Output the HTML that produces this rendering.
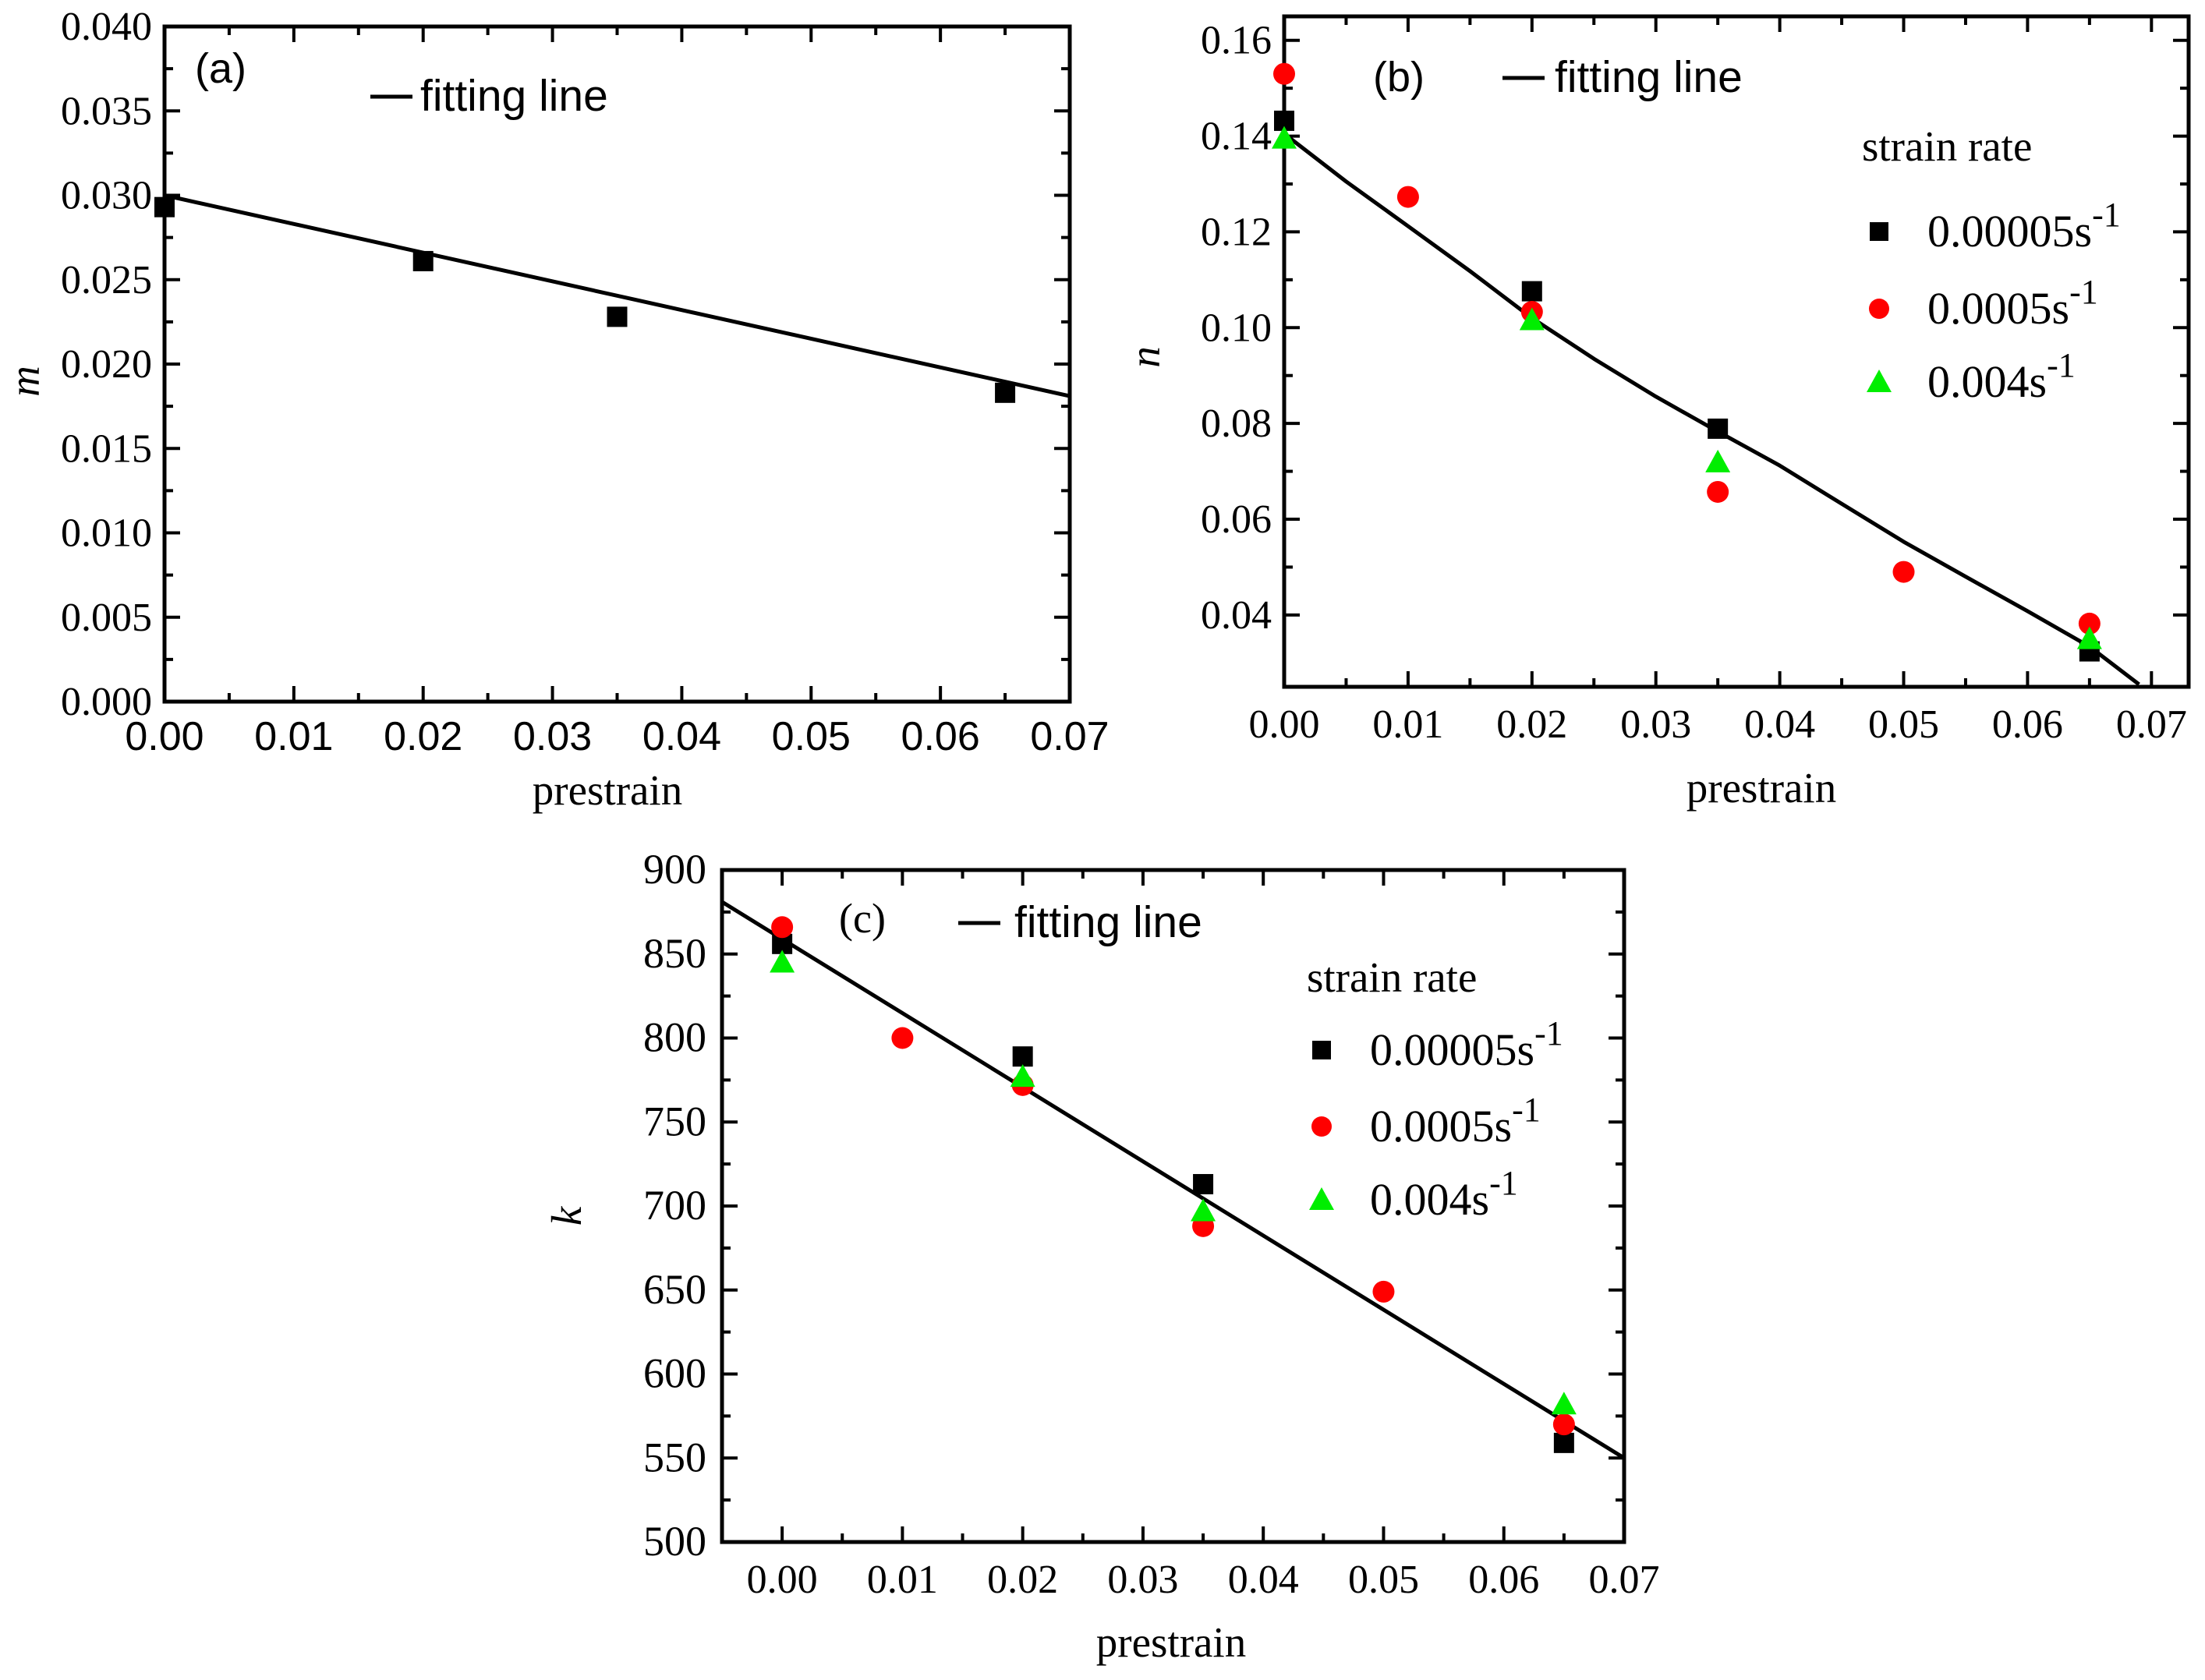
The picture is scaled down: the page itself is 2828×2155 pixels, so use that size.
<!DOCTYPE html>
<html><head><meta charset="utf-8"><style>
html,body{margin:0;padding:0;background:#fff}
svg{display:block}
.serif{font-family:"Liberation Serif",serif}
.sans{font-family:"Liberation Sans",sans-serif}
</style></head><body>
<svg id="fig" width="2828" height="2155" viewBox="0 0 2828 2155" xmlns="http://www.w3.org/2000/svg"></svg>
<script>
// ---- Panel (a) data ----
const aX = [0, 0.02, 0.035, 0.065];
const aM = [0.0293, 0.0261, 0.0228, 0.0183];
const aFitX = [0, 0.07];
const aFitY = [0.0300, 0.0181];
const aYTicks = ["0.000","0.005","0.010","0.015","0.020","0.025","0.030","0.035","0.040"];
const xTicks = ["0.00","0.01","0.02","0.03","0.04","0.05","0.06","0.07"];
// ---- Panel (b) data ----
const bXBlack = [0, 0.02, 0.035, 0.065];
const bBlack = [0.1432, 0.1076, 0.0789, 0.0324];
const bXRed = [0, 0.01, 0.02, 0.035, 0.05, 0.065];
const bRed = [0.153, 0.1273, 0.1033, 0.0657, 0.049, 0.0382];
const bXGreen = [0, 0.02, 0.035, 0.065];
const bGreen = [0.1395, 0.1016, 0.0719, 0.035];
const bFitX = [0, 0.005, 0.01, 0.015, 0.02, 0.025, 0.03, 0.035, 0.04, 0.045, 0.05, 0.055, 0.06, 0.065, 0.069];
const bFitY = [0.1405, 0.1305, 0.1212, 0.1118, 0.1020, 0.0935, 0.0856, 0.0783, 0.0712, 0.0632, 0.0553, 0.0480, 0.0408, 0.0334, 0.0255];
const bYTicks = ["0.04","0.06","0.08","0.10","0.12","0.14","0.16"];
// ---- Panel (c) data ----
const cXBlack = [0, 0.02, 0.035, 0.065];
const cBlack = [856, 789, 713, 559];
const cXRed = [0, 0.01, 0.02, 0.035, 0.05, 0.065];
const cRed = [866, 800, 772, 688, 649, 570];
const cXGreen = [0, 0.02, 0.035, 0.065];
const cGreen = [845, 777, 697, 582];
const cFitX = [-0.005, 0.07];
const cFitY = [881, 550];
const cYTicks = ["500","550","600","650","700","750","800","850","900"];

const NS = "http://www.w3.org/2000/svg";
const svg = document.getElementById("fig");
function mk(tag, attrs, parent){
  const e = document.createElementNS(NS, tag);
  for (const k in attrs) e.setAttribute(k, attrs[k]);
  (parent||svg).appendChild(e);
  return e;
}
function txt(s, attrs, parent){ const t = mk("text", attrs, parent); t.textContent = s; return t; }

function panel(id, L, R, T, B, x0, x1, y0, y1){
  const g = mk("g", {});
  
  
  const sx = v => L + (v - x0) / (x1 - x0) * (R - L);
  const sy = v => B - (v - y0) / (y1 - y0) * (B - T);
  return {g, sx, sy, L, R, T, B};
}
function frame(p){
  const r = mk("rect", {x:p.L, y:p.T, width:p.R-p.L, height:p.B-p.T, fill:"none", stroke:"#000", "stroke-width":5}, p.g);
  
  
}
function xAxis(p, vals, labels, cls, fs, base){
  const g = mk("g", {}, p.g);
  
  
  for (let i = 0; i < vals.length; i++){
    const x = p.sx(vals[i]);
    mk("line", {x1:x, x2:x, y1:p.B, y2:p.B-20, stroke:"#000","stroke-width":4}, g);
    mk("line", {x1:x, x2:x, y1:p.T, y2:p.T+20, stroke:"#000","stroke-width":4}, g);
    if (i < vals.length - 1){
      const xm = p.sx((vals[i]+vals[i+1])/2);
      mk("line", {x1:xm, x2:xm, y1:p.B, y2:p.B-11, stroke:"#000","stroke-width":4}, g);
      mk("line", {x1:xm, x2:xm, y1:p.T, y2:p.T+11, stroke:"#000","stroke-width":4}, g);
    }
    const t = txt(labels[i], {x:x, y:base, "text-anchor":"middle", "font-size":fs, class:cls}, g);
    
    
  }
}
function yAxis(p, vals, labels, fs, right){
  const g = mk("g", {}, p.g);
  
  
  for (let i = 0; i < vals.length; i++){
    const y = p.sy(vals[i]);
    mk("line", {x1:p.L, x2:p.L+20, y1:y, y2:y, stroke:"#000","stroke-width":4}, g);
    mk("line", {x1:p.R, x2:p.R-20, y1:y, y2:y, stroke:"#000","stroke-width":4}, g);
    if (i < vals.length - 1){
      const ym = p.sy((vals[i]+vals[i+1])/2);
      mk("line", {x1:p.L, x2:p.L+11, y1:ym, y2:ym, stroke:"#000","stroke-width":4}, g);
      mk("line", {x1:p.R, x2:p.R-11, y1:ym, y2:ym, stroke:"#000","stroke-width":4}, g);
    }
    const t = txt(labels[i], {x:right, y:y+17, "text-anchor":"end", "font-size":fs, class:"serif"}, g);
    
    
  }
}
function fitLine(p, xs, ys){
  let d = "";
  for (let i = 0; i < xs.length; i++) d += (i ? "L" : "M") + p.sx(xs[i]).toFixed(1) + "," + p.sy(ys[i]).toFixed(1);
  const e = mk("path", {d:d, fill:"none", stroke:"#000", "stroke-width":5, "stroke-linejoin":"round"}, p.g);
  
  
}
function squares(p, xs, ys, name){
  for (let i = 0; i < xs.length; i++){
    const e = mk("rect", {x:p.sx(xs[i])-13, y:p.sy(ys[i])-13, width:26, height:26, fill:"#000"}, p.g);
    
    
  }
}
function circles(p, xs, ys, name){
  for (let i = 0; i < xs.length; i++){
    const e = mk("ellipse", {cx:p.sx(xs[i]), cy:p.sy(ys[i]), rx:14, ry:14, fill:"#ff0000"}, p.g);
    
    
  }
}
function tri(cx, cy, parent){
  return mk("polygon", {points:`${cx},${cy-16} ${cx-16},${cy+13} ${cx+16},${cy+13}`, fill:"#00ee00"}, parent);
}
function triangles(p, xs, ys, name){
  for (let i = 0; i < xs.length; i++){
    const e = tri(p.sx(xs[i]), p.sy(ys[i]), p.g);
    
    
  }
}
function legendFit(p, lx, ly, tx){
  const g = mk("g", {}, p.g);
  
  
  mk("line", {x1:lx, x2:lx+54, y1:ly, y2:ly, stroke:"#000", "stroke-width":5}, g);
  txt("fitting line", {x:tx, y:ly+18, "font-size":57, class:"sans"}, g);
}
function legendRates(p, tx, ty, mx, ys, lx){
  const g = mk("g", {}, p.g);
  
  
  txt("strain rate", {x:tx, y:ty, "font-size":55, class:"serif"}, g);
  const labels = ["0.00005s", "0.0005s", "0.004s"];
  for (let i = 0; i < 3; i++){
    if (i === 0) mk("rect", {x:mx-12, y:ys[i]-12, width:24, height:24, fill:"#000"}, g);
    if (i === 1) mk("ellipse", {cx:mx, cy:ys[i], rx:13, ry:13, fill:"#ff0000"}, g);
    if (i === 2) tri(mx, ys[i], g);
    const t = txt("", {x:lx, y:ys[i]+19, "font-size":58, class:"serif"}, g);
    const a = document.createElementNS(NS, "tspan"); a.textContent = labels[i]; t.appendChild(a);
    const b = document.createElementNS(NS, "tspan"); b.setAttribute("dy", -26); b.setAttribute("font-size", 44); b.textContent = "-1"; t.appendChild(b);
    
    
  }
}
const xv = [0,0.01,0.02,0.03,0.04,0.05,0.06,0.07];

// Panel (a)
const pa = panel("panel-a", 211, 1372, 34, 900, 0, 0.07, 0, 0.040);
frame(pa);
xAxis(pa, xv, xTicks, "sans", 52, 962);
yAxis(pa, [0,0.005,0.010,0.015,0.020,0.025,0.030,0.035,0.040], aYTicks, 52, 195);
fitLine(pa, aFitX, aFitY);
squares(pa, aX, aM, "point-m");
txt("(a)", {x:250, y:106, "font-size":54, class:"sans"}, pa.g);
legendFit(pa, 475, 124, 539);
txt("prestrain", {x:779, y:1032, "text-anchor":"middle", "font-size":55, class:"serif"}, pa.g);
txt("m", {x:0, y:0, "font-size":55, "font-style":"italic", class:"serif", "text-anchor":"middle", transform:"translate(50,489) rotate(-90)"}, pa.g);

// Panel (b)
const pb = panel("panel-b", 1647, 2807, 21, 881, 0, 0.073, 0.025, 0.165);
frame(pb);
xAxis(pb, xv, xTicks, "serif", 52, 946);
yAxis(pb, [0.04,0.06,0.08,0.10,0.12,0.14,0.16], bYTicks, 52, 1631);
fitLine(pb, bFitX, bFitY);
squares(pb, bXBlack, bBlack, "point-n-0.00005");
circles(pb, bXRed, bRed, "point-n-0.0005");
triangles(pb, bXGreen, bGreen, "point-n-0.004");
txt("(b)", {x:1761, y:117, "font-size":54, class:"sans"}, pb.g);
legendFit(pb, 1927, 100, 1994);
legendRates(pb, 2388, 206, 2410, [297, 396, 490], 2472);
txt("prestrain", {x:2259, y:1029, "text-anchor":"middle", "font-size":55, class:"serif"}, pb.g);
txt("n", {x:0, y:0, "font-size":55, "font-style":"italic", class:"serif", "text-anchor":"middle", transform:"translate(1487,458) rotate(-90)"}, pb.g);

// Panel (c)
const pc = panel("panel-c", 926, 2083, 1116, 1978, -0.005, 0.07, 500, 900);
frame(pc);
xAxis(pc, xv, xTicks, "serif", 52, 2043);
yAxis(pc, [500,550,600,650,700,750,800,850,900], cYTicks, 54, 906);
fitLine(pc, cFitX, cFitY);
squares(pc, cXBlack, cBlack, "point-k-0.00005");
circles(pc, cXRed, cRed, "point-k-0.0005");
triangles(pc, cXGreen, cGreen, "point-k-0.004");
txt("(c)", {x:1076, y:1196, "font-size":54, class:"serif"}, pc.g);
legendFit(pc, 1229, 1184, 1301);
legendRates(pc, 1676, 1272, 1695, [1347, 1445, 1539], 1757);
txt("prestrain", {x:1502, y:2125, "text-anchor":"middle", "font-size":55, class:"serif"}, pc.g);
txt("k", {x:0, y:0, "font-size":55, "font-style":"italic", class:"serif", "text-anchor":"middle", transform:"translate(745,1560) rotate(-90)"}, pc.g);
</script>
</body></html>
